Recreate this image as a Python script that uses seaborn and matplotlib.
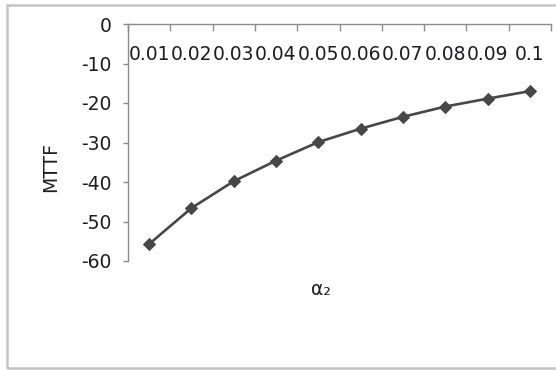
import matplotlib
matplotlib.use("Agg")
import matplotlib.pyplot as plt
from matplotlib.patches import Rectangle
from matplotlib.ticker import FixedLocator, NullFormatter
import seaborn as sns
import pandas as pd

# MTTF as a function of alpha_2
alpha2_labels = ["0.01", "0.02", "0.03", "0.04", "0.05", "0.06", "0.07", "0.08", "0.09", "0.1"]
mttf = [-55.7, -46.6, -39.8, -34.6, -29.9, -26.5, -23.5, -20.9, -18.9, -17.0]
y_ticks = [0, -10, -20, -30, -40, -50, -60]

sns.set_theme(style="white")
plt.rcParams["font.family"] = ["DejaVu Sans"]

df = pd.DataFrame({"pos": range(len(alpha2_labels)), "mttf": mttf})

W, H = 556, 370
fig = plt.figure(figsize=(W / 100, H / 100), dpi=100)
fig.patch.set_facecolor("white")

# plot area in pixel coordinates
left, right, top, bottom = 128, 551, 24, 261
ax = fig.add_axes([left / W, 1 - bottom / H, (right - left) / W, (bottom - top) / H])
ax.set_facecolor("none")

sns.lineplot(data=df, x="pos", y="mttf", ax=ax, color="#474747", linewidth=1.9,
             marker="D", markersize=6.5, markeredgecolor="#474747",
             markerfacecolor="#474747")

ax.set_xlim(-0.5, len(alpha2_labels) - 0.5)
ax.set_ylim(-60, 0)

axis_color = "#8c8c8c"
text_color = "#1c1c24"
fs = 13.5
for side in ["top", "right"]:
    ax.spines[side].set_visible(False)
ax.spines["bottom"].set_position(("data", 0))
ax.spines["bottom"].set_color(axis_color)
ax.spines["left"].set_color(axis_color)
ax.spines["bottom"].set_linewidth(1.0)
ax.spines["left"].set_linewidth(1.0)

# category axis: tick marks on boundaries, labels centred on categories
ax.xaxis.set_major_locator(FixedLocator([i - 0.5 for i in range(len(alpha2_labels) + 1)]))
ax.xaxis.set_major_formatter(NullFormatter())
ax.xaxis.set_minor_locator(FixedLocator(list(range(len(alpha2_labels)))))
ax.set_xticklabels(alpha2_labels, minor=True)
ax.tick_params(axis="x", which="major", direction="out", length=5, width=1,
               color=axis_color, bottom=True)
ax.tick_params(axis="x", which="minor", length=0, pad=15, labelsize=fs,
               labelcolor=text_color, bottom=True)

ax.set_yticks(y_ticks)
ax.set_yticklabels([str(v) for v in y_ticks])
ax.tick_params(axis="y", direction="out", length=3.6, width=1, color=axis_color,
               left=True, labelsize=fs, labelcolor=text_color, pad=8.5)

ax.set_xlabel("α₂", fontsize=fs, color=text_color)
ax.xaxis.set_label_coords((321 - left) / (right - left), (bottom - 280) / (bottom - top))
ax.set_ylabel("MTTF", fontsize=fs, color=text_color)
ax.yaxis.set_label_coords((60 - left) / (right - left), (bottom - 167) / (bottom - top))

# chart frame
fig.add_artist(Rectangle((7 / W, 1 - 368 / H), 560 / W, 363 / H, transform=fig.transFigure,
                         fill=False, edgecolor="#c4c4c4", linewidth=1.8))

fig.savefig("out.png", dpi=100)
